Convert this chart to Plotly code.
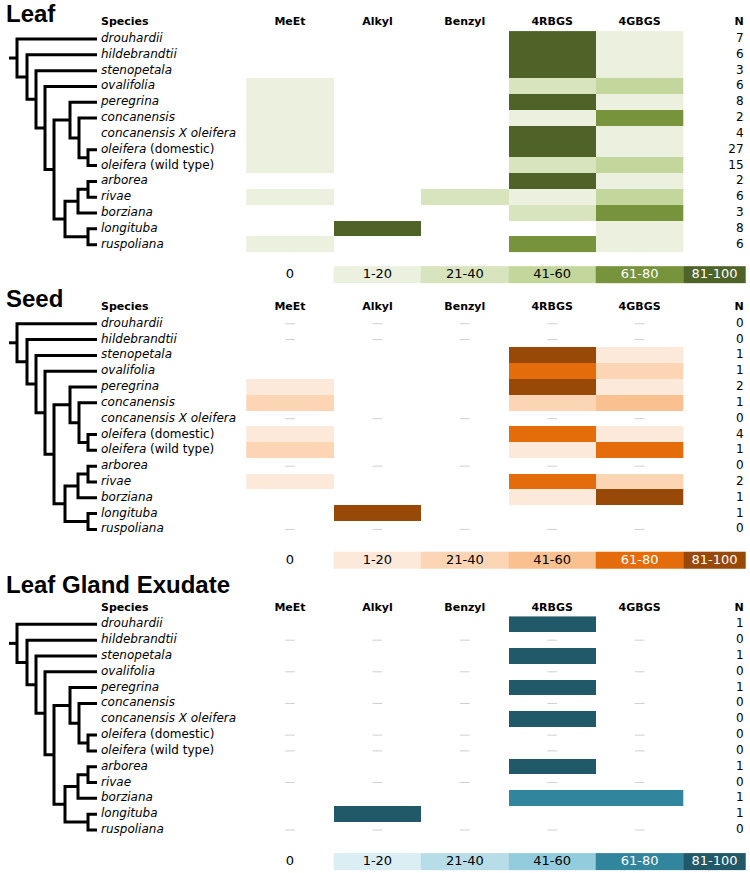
import plotly.graph_objects as go

# ---------------- data ----------------
species = ["<i>drouhardii</i>", "<i>hildebrandtii</i>", "<i>stenopetala</i>", "<i>ovalifolia</i>",
           "<i>peregrina</i>", "<i>concanensis</i>", "<i>concanensis X oleifera</i>",
           "<i>oleifera</i> (domestic)", "<i>oleifera</i> (wild type)", "<i>arborea</i>",
           "<i>rivae</i>", "<i>borziana</i>", "<i>longituba</i>", "<i>ruspoliana</i>"]
compounds = ["MeEt", "Alkyl", "Benzyl", "4RBGS", "4GBGS"]
legend_labels = ["0", "1-20", "21-40", "41-60", "61-80", "81-100"]
panel_titles = ["Leaf", "Seed", "Leaf Gland Exudate"]

# level codes: 0 = 0 %, 1 = 1-20, 2 = 21-40, 3 = 41-60, 4 = 61-80, 5 = 81-100; None row = no data (dashes)
leaf_values = [
    [0, 0, 0, 5, 1],
    [0, 0, 0, 5, 1],
    [0, 0, 0, 5, 1],
    [1, 0, 0, 2, 3],
    [1, 0, 0, 5, 1],
    [1, 0, 0, 1, 4],
    [1, 0, 0, 5, 1],
    [1, 0, 0, 5, 1],
    [1, 0, 0, 2, 3],
    [0, 0, 0, 5, 1],
    [1, 0, 2, 1, 3],
    [0, 0, 0, 2, 4],
    [0, 5, 0, 0, 1],
    [1, 0, 0, 4, 1],
]
leaf_n = [7, 6, 3, 6, 8, 2, 4, 27, 15, 2, 6, 3, 8, 6]

seed_values = [
    None,
    None,
    [0, 0, 0, 5, 1],
    [0, 0, 0, 4, 2],
    [1, 0, 0, 5, 1],
    [2, 0, 0, 2, 3],
    None,
    [1, 0, 0, 4, 1],
    [2, 0, 0, 1, 4],
    None,
    [1, 0, 0, 4, 2],
    [0, 0, 0, 1, 5],
    [0, 5, 0, 0, 0],
    None,
]
seed_n = [0, 0, 1, 1, 2, 1, 0, 4, 1, 0, 2, 1, 1, 0]

exudate_values = [
    [0, 0, 0, 5, 0],
    None,
    [0, 0, 0, 5, 0],
    None,
    [0, 0, 0, 5, 0],
    None,
    [0, 0, 0, 5, 0],
    None,
    None,
    [0, 0, 0, 5, 0],
    None,
    [0, 0, 0, 4, 4],
    [0, 5, 0, 0, 0],
    None,
]
exudate_n = [1, 0, 1, 0, 1, 0, 0, 0, 0, 1, 0, 1, 1, 0]

leaf_colors = ["#ebf1de", "#d7e4bd", "#c3d69b", "#77933c", "#4f6228"]
seed_colors = ["#fde9d9", "#fcd5b5", "#fac090", "#e46c0a", "#984807"]
exudate_colors = ["#dbeef4", "#b7dee8", "#93cddd", "#31859c", "#215968"]

# phylogeny: internal node -> (depth, children); ints are tip row indices
tree = {
    "root": (17, [0, "n2"]),
    "n2": (27, [1, "n3"]),
    "n3": (36, [2, "n4"]),
    "n4": (45, [3, "n5"]),
    "n5": (54, ["cladeA", "cladeB"]),
    "cladeA": (70, [4, "conc"]),
    "conc": (79, [5, "ole"]),
    "ole": (88, [7, 8]),
    "cladeB": (65, ["arbBorz", "longRusp"]),
    "arbBorz": (78, ["arbRiv", 11]),
    "arbRiv": (88, [9, 10]),
    "longRusp": (88, [12, 13]),
}
tip_depth = 97
root_stub = 9

# ---------------- layout constants ----------------
W, H = 750, 873
ROW0 = 39.0      # pixel of first row
ROWH = 15.82     # pixel per row
COL0 = 290.0     # pixel of first compound column centre
COLW = 87.4
panel_offsets = [0, 18, 37]
header_rel = [-1.03, -1.03, -1.0]
legend_rel = [14.9, 14.95, 15.0]
title_rel = [-1.62, -1.6, -2.55]

FONT = "DejaVu Sans"

fig = go.Figure()


def node_y(key):
    if isinstance(key, int):
        return float(key)
    d, ch = tree[key]
    return (node_y(ch[0]) + node_y(ch[-1])) / 2.0


def node_x(key):
    if isinstance(key, int):
        return tip_depth
    return tree[key][0]


def colorscale(cols):
    cs = []
    n = len(cols)
    for i, c in enumerate(cols):
        cs.append([i / n, c])
        cs.append([(i + 1) / n, c])
    return cs


panels = [
    (leaf_values, leaf_n, leaf_colors),
    (seed_values, seed_n, seed_colors),
    (exudate_values, exudate_n, exudate_colors),
]

for p, (vals, ns, cols) in enumerate(panels):
    off = panel_offsets[p]
    rows = [off + i for i in range(len(species))]

    # --- tree ---
    tx, ty = [], []
    for key, (d, ch) in tree.items():
        c0, c1 = ch[0], ch[-1]
        tx += [node_x(c0), d, d, node_x(c1), None]
        ty += [node_y(c0) + off, node_y(c0) + off, node_y(c1) + off, node_y(c1) + off, None]
    ry = node_y("root") + off
    tx += [root_stub, tree["root"][0], None]
    ty += [ry, ry, None]
    fig.add_trace(go.Scatter(x=tx, y=ty, mode="lines", xaxis="x2", yaxis="y",
                             line=dict(color="black", width=3), hoverinfo="skip",
                             showlegend=False))

    # --- species labels ---
    fig.add_trace(go.Scatter(x=[101] * len(species), y=rows, mode="text", text=species,
                             textposition="middle right", xaxis="x2", yaxis="y",
                             textfont=dict(family=FONT, size=12, color="black"),
                             hoverinfo="skip", showlegend=False))
    hy = off + header_rel[p]
    fig.add_trace(go.Scatter(x=[101], y=[hy], mode="text", text=["<b>Species</b>"],
                             textposition="middle right", xaxis="x2", yaxis="y",
                             textfont=dict(family=FONT, size=11, color="black"),
                             hoverinfo="skip", showlegend=False))

    # --- column headers ---
    fig.add_trace(go.Scatter(x=list(range(len(compounds))), y=[hy] * len(compounds), mode="text",
                             text=["<b>%s</b>" % c for c in compounds], textposition="middle center",
                             textfont=dict(family=FONT, size=11, color="black"),
                             hoverinfo="skip", showlegend=False))
    fig.add_trace(go.Scatter(x=[5.19], y=[hy], mode="text", text=["<b>N</b>"],
                             textposition="middle left",
                             textfont=dict(family=FONT, size=11, color="black"),
                             hoverinfo="skip", showlegend=False))

    # --- heat cells ---
    z = []
    for r in vals:
        if r is None:
            z.append([None] * len(compounds))
        else:
            z.append([v if v else None for v in r])
    fig.add_trace(go.Heatmap(x=list(range(len(compounds))), y=rows, z=z,
                             colorscale=colorscale(cols), zmin=0.5, zmax=5.5,
                             showscale=False, hoverinfo="skip", xgap=0, ygap=0))

    # --- dashes for no-data rows ---
    dx, dy = [], []
    for i, r in enumerate(vals):
        if r is None:
            for c in range(len(compounds)):
                dx.append(c)
                dy.append(rows[i])
    if dx:
        fig.add_trace(go.Scatter(x=dx, y=dy, mode="markers",
                                 marker=dict(symbol="line-ew", size=7,
                                             line=dict(color="#cfcfcf", width=1)),
                                 hoverinfo="skip", showlegend=False))

    # --- N values ---
    fig.add_trace(go.Scatter(x=[5.19] * len(ns), y=rows, mode="text", text=[str(n) for n in ns],
                             textposition="middle left",
                             textfont=dict(family=FONT, size=12, color="black"),
                             hoverinfo="skip", showlegend=False))

    # --- legend strip ---
    ly = off + legend_rel[p]
    fig.add_trace(go.Heatmap(x=[0.5, 1.5, 2.5, 3.5, 4.5, 5.215], y=[ly - 0.54, ly + 0.54],
                             z=[[1, 2, 3, 4, 5]], colorscale=colorscale(cols), zmin=0.5, zmax=5.5,
                             showscale=False, hoverinfo="skip"))
    lx = [0, 1, 2, 3, 4, (4.5 + 5.215) / 2]
    lcol = ["black", "black", "black", "black", "white", "white"]
    fig.add_trace(go.Scatter(x=lx, y=[ly] * len(lx), mode="text", text=legend_labels,
                             textposition="middle center",
                             textfont=dict(family=FONT, size=13, color=lcol),
                             hoverinfo="skip", showlegend=False))

    # --- panel title ---
    fig.add_annotation(x=4, y=off + title_rel[p], xref="x2", yref="y", xanchor="left",
                       yanchor="middle", showarrow=False,
                       text="<b>%s</b>" % panel_titles[p],
                       font=dict(family="Liberation Sans", size=24, color="black"))

x_lo = (0 - COL0) / COLW
x_hi = (W - COL0) / COLW
y_top = (0 - ROW0) / ROWH
y_bot = (H - ROW0) / ROWH

fig.update_layout(
    width=W, height=H,
    margin=dict(l=0, r=0, t=0, b=0),
    paper_bgcolor="white", plot_bgcolor="white",
    showlegend=False,
    hovermode=False,
    xaxis=dict(range=[x_lo, x_hi], domain=[0, 1], visible=False, fixedrange=True),
    xaxis2=dict(range=[0, W], domain=[0, 1], overlaying="x", anchor="y", visible=False,
                fixedrange=True),
    yaxis=dict(range=[y_bot, y_top], domain=[0, 1], visible=False, fixedrange=True),
)

fig.write_html("out.html",
               config={"displayModeBar": False, "staticPlot": True},
               post_script="document.body.style.margin='0';document.body.style.overflow='hidden';")
